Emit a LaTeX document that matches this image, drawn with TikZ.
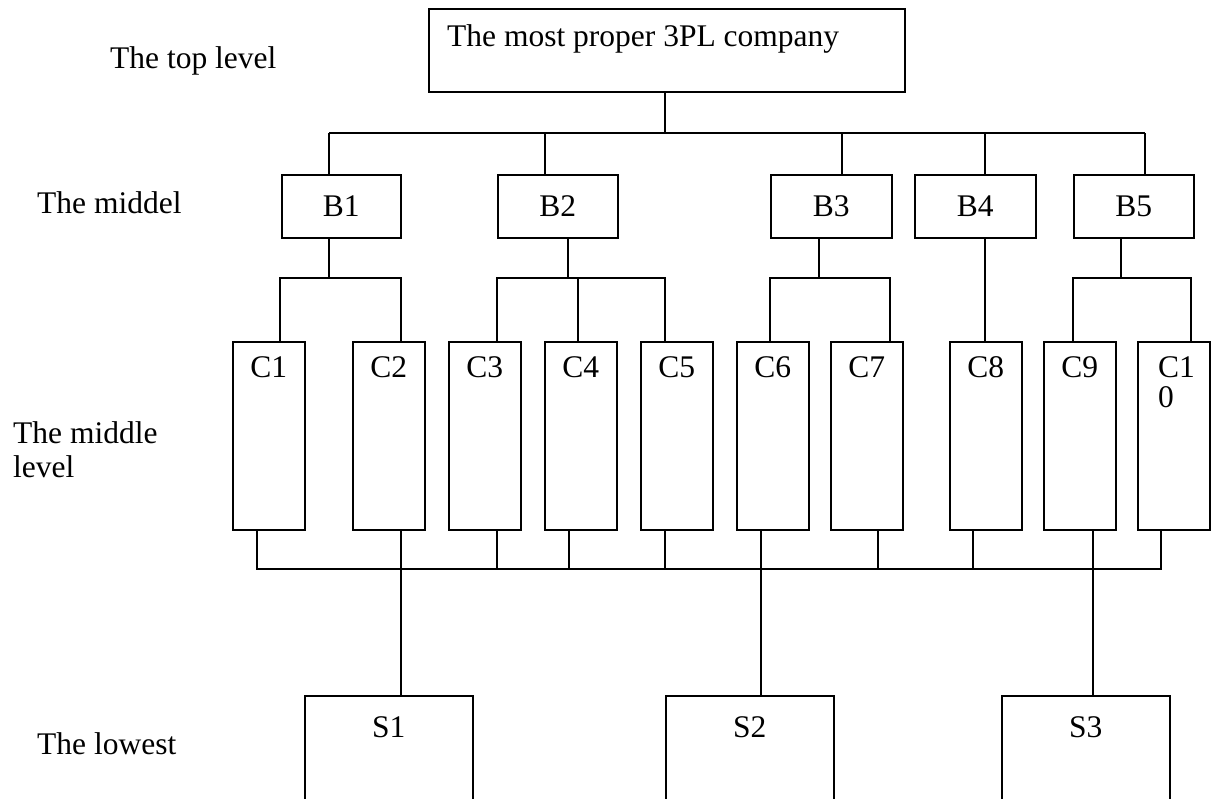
\documentclass[tikz,border=0pt]{standalone}
\usepackage{fontspec}
\setmainfont{Liberation Serif}
\usetikzlibrary{calc}
\begin{document}
\begin{tikzpicture}[x=1pt,y=-1pt,
  every node/.append style={font=\fontsize{31.5}{34}\selectfont},
  line/.style={line width=1.5pt},
  box/.style={draw, line width=1.5pt, inner sep=0pt, anchor=north west},
  bbox/.style={box, minimum height=63},
  cbox/.style={box, minimum width=72, minimum height=188},
  sbox/.style={box, minimum width=168, minimum height=200},
  txt/.style={inner sep=0pt, anchor=base},
  lbl/.style={inner sep=0pt, anchor=base west}]
\useasboundingbox (0,0) rectangle (1221,798);
\clip (0,0) rectangle (1221,798);

% top level
\node[box, minimum width=476, minimum height=83] (top) at (428,8) {};
\node[lbl] (toptxt) at (447,46) {The most proper 3PL company};

% middle (B)
\node[bbox, minimum width=119] (B1) at (281,174) {B1};
\node[bbox, minimum width=120] (B2) at (497,174) {B2};
\node[bbox, minimum width=121] (B3) at (770,174) {B3};
\node[bbox, minimum width=121] (B4) at (914,174) {B4};
\node[bbox, minimum width=120] (B5) at (1073,174) {B5};

% middle level (C)
\node[cbox] (C1) at (232,341) {};
\node[cbox] (C2) at (352,341) {};
\node[cbox] (C3) at (448,341) {};
\node[cbox] (C4) at (544,341) {};
\node[cbox] (C5) at (640,341) {};
\node[cbox] (C6) at (736,341) {};
\node[cbox] (C7) at (830,341) {};
\node[cbox] (C8) at (949,341) {};
\node[cbox] (C9) at (1043,341) {};
\node[cbox] (C10) at (1137,341) {};
\foreach \i in {1,...,9}{
  \node[txt] (C\i t) at ($(C\i.north)+(0,36)$) {C\i};
}
\node[inner sep=0pt, anchor=north west, align=left, font=\fontsize{31.5}{30}\selectfont] (C10t) at ($(C10.north west)+(21,15)$) {C1\\0};

% lowest (S)
\node[sbox] (S1) at (304,695) {};
\node[sbox] (S2) at (665,695) {};
\node[sbox] (S3) at (1001,695) {};
\foreach \i in {1,2,3}{
  \node[txt] (S\i t) at ($(S\i.north)+(0,42)$) {S\i};
}

% level labels
\node[lbl] (Ltop) at (110,68) {The top level};
\node[lbl] (Lmid) at (37,213) {The middel};
\fill[white] (0,402) rectangle (232,488);
\node[inner sep=0pt, anchor=north west, align=left] (Lmidlev) at (13,421.5) {The middle\\level};
\node[lbl] (Llow) at (37,754) {The lowest};

% top -> B
\coordinate (tb0) at (665,133);
\coordinate (tb1) at (329,133);
\coordinate (tb2) at (545,133);
\coordinate (tb3) at (842,133);
\coordinate (tb4) at (985,133);
\coordinate (tb5) at (1145,133);
\draw[line] (top.south -| tb0) -- (tb0);
\draw[line] (tb1) -- (tb5);
\foreach \i in {1,2,3,4,5}{
  \draw[line] (tb\i) -- (tb\i |- B\i.north);
}

% B -> C
\coordinate (c1t) at (C1.north -| 280,0);
\coordinate (c2t) at (C2.north -| 401,0);
\coordinate (c3t) at (C3.north -| 497,0);
\coordinate (c4t) at (C4.north -| 578,0);
\coordinate (c5t) at (C5.north -| 665,0);
\coordinate (c6t) at (C6.north -| 770,0);
\coordinate (c7t) at (C7.north -| 890,0);
\coordinate (c8t) at (C8.north -| 985,0);
\coordinate (c9t) at (C9.north -| 1073,0);
\coordinate (c10t) at (C10.north -| 1191,0);
\coordinate (m1) at (329,278);
\coordinate (m2) at (568,278);
\coordinate (m3) at (819,278);
\coordinate (m5) at (1121,278);
\draw[line] (m1 |- B1.south) -- (m1);
\draw[line] (m2 |- B2.south) -- (m2);
\draw[line] (m3 |- B3.south) -- (m3);
\draw[line] (m5 |- B5.south) -- (m5);
\draw[line] (c1t) |- (m1) -| (c2t);
\draw[line] (c3t) |- (m2) -| (c5t);
\draw[line] (c4t) -- (c4t |- m2);
\draw[line] (c6t) |- (m3) -| (c7t);
\draw[line] (c9t) |- (m5) -| (c10t);
\draw[line] (c8t |- B4.south) -- (c8t);

% C -> bottom bus
\coordinate (c1b) at (C1.south -| 257,0);
\coordinate (c2b) at (C2.south -| 401,0);
\coordinate (c3b) at (C3.south -| 497,0);
\coordinate (c4b) at (C4.south -| 569,0);
\coordinate (c5b) at (C5.south -| 665,0);
\coordinate (c6b) at (C6.south -| 761,0);
\coordinate (c7b) at (C7.south -| 878,0);
\coordinate (c8b) at (C8.south -| 973,0);
\coordinate (c9b) at (C9.south -| 1093,0);
\coordinate (c10b) at (C10.south -| 1161,0);
\coordinate (busR) at (1161,569);
\draw[line] (c1b) |- (busR) -- (c10b);
\foreach \i in {3,4,5,7,8}{
  \draw[line] (c\i b) -- (c\i b |- busR);
}
\draw[line] (c2b) -- (c2b |- S1.north);
\draw[line] (c6b) -- (c6b |- S2.north);
\draw[line] (c9b) -- (c9b |- S3.north);
\end{tikzpicture}
\end{document}
